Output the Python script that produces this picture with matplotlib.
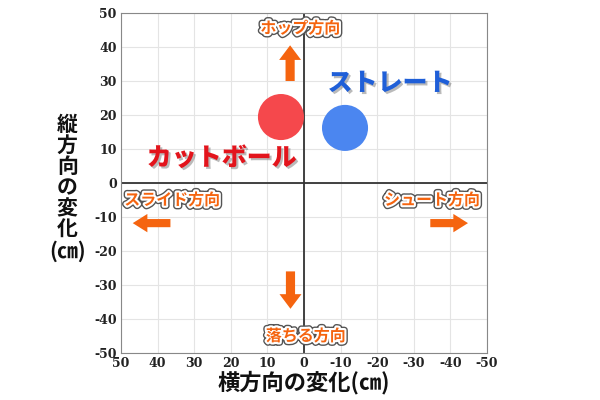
import matplotlib
matplotlib.use("Agg")
import matplotlib.pyplot as plt
import matplotlib.patheffects as pe
from matplotlib.patches import FancyArrow

plt.rcParams["axes.unicode_minus"] = False

# data
pitches = ["カットボール", "ストレート"]
x_change = [6.3, -11.2]
y_change = [19.4, 16.2]
colors = ["#f5484c", "#4b86f0"]
label_colors = ["#e3141c", "#1f5fd8"]
label_x = [22.5, -23.5]
label_y = [7.5, 29.5]

dir_labels = ["ホップ方向", "スライド方向", "シュート方向", "落ちる方向"]
dir_x = [1, 36, -35, -0.5]
dir_y = [45.5, -5, -5, -45]
# arrows: start x, start y, dx, dy
arrow_x = [3.8, 36.5, -34.5, 3.7]
arrow_y = [30, -11.8, -11.8, -26]
arrow_dx = [0, 10.3, -10.3, 0]
arrow_dy = [10.5, 0, 0, -11]

ticks = [50, 40, 30, 20, 10, 0, -10, -20, -30, -40, -50]

jp = ["Noto Sans CJK JP", "DejaVu Sans"]
orange = "#f5640f"

fig = plt.figure(figsize=(6, 4), dpi=100)
ax = fig.add_axes([0.2017, 0.1175, 0.61, 0.85])
ax.set_xlim(50, -50)
ax.set_ylim(-50, 50)
ax.set_xticks(ticks)
ax.set_yticks(ticks)
ax.grid(True, color="#e4e4e4", linewidth=0.8)
ax.set_axisbelow(True)
for s in ax.spines.values():
    s.set_color("#888888")
ax.axhline(0, color="#333333", linewidth=1.3)
ax.axvline(0, color="#333333", linewidth=1.3)
ax.tick_params(length=0, pad=3)
for lab in ax.get_xticklabels() + ax.get_yticklabels():
    lab.set_fontfamily("DejaVu Serif")
    lab.set_fontweight("bold")
    lab.set_fontsize(9)
    lab.set_color("#222222")

ax.scatter(x_change, y_change, s=1100, c=colors, zorder=3, linewidths=0)

for name, x, y, c in zip(pitches, label_x, label_y, label_colors):
    ax.text(x, y, name, color=c, fontsize=18, fontweight="heavy", family=jp,
            ha="center", va="center", zorder=4,
            path_effects=[pe.withSimplePatchShadow(offset=(1.5, -1.5), shadow_rgbFace="#777777", alpha=0.5)])

for name, x, y in zip(dir_labels, dir_x, dir_y):
    ax.text(x, y, name, color=orange, fontsize=11.5, fontweight="bold", family=jp,
            ha="center", va="center", zorder=4,
            path_effects=[pe.Stroke(linewidth=5, foreground="#555555"),
                          pe.Stroke(linewidth=3, foreground="white"), pe.Normal()])

for x, y, dx, dy in zip(arrow_x, arrow_y, arrow_dx, arrow_dy):
    horiz = dy == 0
    ax.add_patch(FancyArrow(x, y, dx, dy, width=2.5 if not horiz else 2.4,
                            head_width=6 if not horiz else 5.4,
                            head_length=4 if horiz else 4.3,
                            length_includes_head=True, color=orange, lw=0, zorder=4))

fig.text(0.507, 0.043, "横方向の変化(㎝)", ha="center", va="center", fontsize=16,
         fontweight="bold", family=jp, color="#111111")
fig.text(0.112, 0.53, "縦\n方\n向\nの\n変\n化\n(㎝)", ha="center", va="center",
         fontsize=15, fontweight="bold", family=jp, color="#111111", linespacing=1.0)

fig.savefig("out.png", dpi=100)
